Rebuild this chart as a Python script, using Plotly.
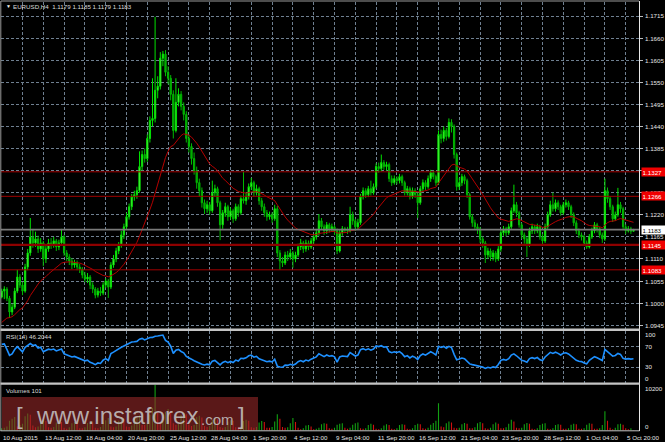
import plotly.graph_objects as go

W, H = 665, 442

# ---------------- data ----------------
# closes of the H4 bars before the visible window (used only to seed the indicators)
warmup_close = [1.0950, 1.0940, 1.0925, 1.0910, 1.0900, 1.0890,
                1.0885, 1.0880, 1.0870, 1.0865, 1.0880, 1.0890,
                1.0900, 1.0890, 1.0880, 1.0875, 1.0890, 1.0905,
                1.0915, 1.0905, 1.0920, 1.0950, 1.0965, 1.0960,
                1.0960, 1.0965, 1.0975, 1.0990, 1.1000, 1.1015]

closes = [1.1030,
    1.1035, 1.1012, 1.0978, 1.0990, 1.1030, 1.1065, 1.1045, 1.1030, 1.1090, 1.1125,
    1.1165, 1.1150, 1.1160, 1.1135, 1.1150, 1.1110, 1.1135, 1.1150, 1.1145, 1.1155,
    1.1140, 1.1150, 1.1165, 1.1125, 1.1115, 1.1105, 1.1095, 1.1100, 1.1090, 1.1085,
    1.1070, 1.1060, 1.1065, 1.1045, 1.1035, 1.1020, 1.1030, 1.1025, 1.1045, 1.1055,
    1.1040, 1.1095, 1.1110, 1.1130, 1.1145, 1.1170, 1.1190, 1.1215, 1.1240, 1.1265,
    1.1270, 1.1280, 1.1340, 1.1370, 1.1360, 1.1410, 1.1455, 1.1460, 1.1530, 1.1540,
    1.1610, 1.1620, 1.1575, 1.1560, 1.1520, 1.1430, 1.1500, 1.1520, 1.1490, 1.1470,
    1.1410, 1.1390, 1.1360, 1.1330, 1.1300, 1.1280, 1.1250, 1.1235, 1.1245, 1.1230,
    1.1275, 1.1285, 1.1250, 1.1195, 1.1225, 1.1240, 1.1215, 1.1230, 1.1210, 1.1240,
    1.1225, 1.1260, 1.1255, 1.1265, 1.1290, 1.1300, 1.1275, 1.1285, 1.1255, 1.1240,
    1.1225, 1.1215, 1.1220, 1.1210, 1.1235, 1.1125, 1.1105, 1.1100, 1.1120, 1.1115,
    1.1125, 1.1110, 1.1120, 1.1140, 1.1150, 1.1135, 1.1150, 1.1140, 1.1155, 1.1165,
    1.1175, 1.1205, 1.1190, 1.1180, 1.1195, 1.1185, 1.1190, 1.1180, 1.1130, 1.1175,
    1.1185, 1.1182,
    1.1180, 1.1220, 1.1205, 1.1190, 1.1200, 1.1265, 1.1280, 1.1270, 1.1285,
    1.1275, 1.1290, 1.1340, 1.1335, 1.1350, 1.1340, 1.1345, 1.1310, 1.1300, 1.1310,
    1.1305, 1.1315, 1.1300, 1.1275, 1.1285, 1.1265, 1.1280, 1.1270, 1.1250, 1.1285,
    1.1300, 1.1290, 1.1310, 1.1325, 1.1315, 1.1300, 1.1420, 1.1410, 1.1430, 1.1415,
    1.1450, 1.1440, 1.1370, 1.1290, 1.1300, 1.1315, 1.1305, 1.1270, 1.1215, 1.1200,
    1.1190, 1.1185, 1.1160, 1.1150, 1.1120, 1.1130, 1.1115, 1.1125, 1.1110, 1.1135,
    1.1175, 1.1185, 1.1175, 1.1190, 1.1230, 1.1245, 1.1225, 1.1195, 1.1170, 1.1160,
    1.1145, 1.1180, 1.1190, 1.1180, 1.1190, 1.1165, 1.1155, 1.1190, 1.1220, 1.1245,
    1.1235, 1.1250, 1.1240, 1.1225, 1.1245, 1.1250, 1.1240, 1.1220, 1.1200, 1.1180,
    1.1170, 1.1165, 1.1150, 1.1140, 1.1165, 1.1180, 1.1195, 1.1185, 1.1170, 1.1160,
    1.1280, 1.1260, 1.1240, 1.1210, 1.1220, 1.1245, 1.1235, 1.1190, 1.1180, 1.1185, 1.1179,
    1.1183]

highs = [1.1036,
    1.1042, 1.1040, 1.1018, 1.0998, 1.1038, 1.1083, 1.1072, 1.1052, 1.1098, 1.1135,
    1.1212, 1.1185, 1.1178, 1.1168, 1.1162, 1.1155, 1.1142, 1.1160, 1.1162, 1.1165,
    1.1160, 1.1158, 1.1185, 1.1170, 1.1132, 1.1122, 1.1112, 1.1108, 1.1106, 1.1098,
    1.1090, 1.1078, 1.1075, 1.1070, 1.1052, 1.1040, 1.1038, 1.1040, 1.1052, 1.1062,
    1.1060, 1.1102, 1.1120, 1.1138, 1.1152, 1.1180, 1.1198, 1.1225, 1.1248, 1.1272,
    1.1280, 1.1290, 1.1378, 1.1380, 1.1385, 1.1420, 1.1465, 1.1560, 1.1713, 1.1565,
    1.1625, 1.1628, 1.1630, 1.1590, 1.1568, 1.1530, 1.1560, 1.1535, 1.1528, 1.1500,
    1.1478, 1.1420, 1.1398, 1.1375, 1.1340, 1.1310, 1.1288, 1.1258, 1.1255, 1.1252,
    1.1305, 1.1295, 1.1290, 1.1255, 1.1232, 1.1250, 1.1245, 1.1238, 1.1235, 1.1248,
    1.1246, 1.1268, 1.1327, 1.1275, 1.1298, 1.1312, 1.1305, 1.1295, 1.1290, 1.1262,
    1.1248, 1.1232, 1.1228, 1.1226, 1.1245, 1.1242, 1.1132, 1.1115, 1.1128, 1.1130,
    1.1135, 1.1130, 1.1128, 1.1148, 1.1160, 1.1155, 1.1158, 1.1156, 1.1162, 1.1172,
    1.1185, 1.1222, 1.1212, 1.1196, 1.1202, 1.1200, 1.1198, 1.1195, 1.1186, 1.1182,
    1.1192, 1.1190,
    1.1190, 1.1240, 1.1228, 1.1210, 1.1210, 1.1272, 1.1288, 1.1286, 1.1292,
    1.1305, 1.1298, 1.1348, 1.1350, 1.1370, 1.1356, 1.1352, 1.1350, 1.1318, 1.1318,
    1.1316, 1.1322, 1.1320, 1.1305, 1.1292, 1.1290, 1.1288, 1.1286, 1.1275, 1.1292,
    1.1308, 1.1306, 1.1318, 1.1332, 1.1330, 1.1320, 1.1430, 1.1432, 1.1440, 1.1436,
    1.1460, 1.1458, 1.1445, 1.1375, 1.1312, 1.1322, 1.1320, 1.1310, 1.1275, 1.1222,
    1.1208, 1.1198, 1.1190, 1.1166, 1.1155, 1.1138, 1.1136, 1.1132, 1.1130, 1.1142,
    1.1182, 1.1192, 1.1190, 1.1198, 1.1238, 1.1295, 1.1252, 1.1230, 1.1200, 1.1176,
    1.1165, 1.1188, 1.1198, 1.1195, 1.1198, 1.1195, 1.1172, 1.1198, 1.1228, 1.1255,
    1.1275, 1.1258, 1.1256, 1.1245, 1.1252, 1.1258, 1.1255, 1.1245, 1.1226, 1.1206,
    1.1186, 1.1176, 1.1170, 1.1156, 1.1172, 1.1188, 1.1202, 1.1200, 1.1190, 1.1176,
    1.1310, 1.1288, 1.1266, 1.1245, 1.1228, 1.1287, 1.1252, 1.1240, 1.1196, 1.1192, 1.1190,
    1.1185]

lows = [1.1012,
    1.1010, 1.1005, 1.0963, 1.0970, 1.0985, 1.1025, 1.1038, 1.1020, 1.1026, 1.1082,
    1.1118, 1.1138, 1.1140, 1.1125, 1.1128, 1.1092, 1.1100, 1.1128, 1.1135, 1.1138,
    1.1130, 1.1132, 1.1145, 1.1118, 1.1105, 1.1095, 1.1085, 1.1088, 1.1082, 1.1075,
    1.1062, 1.1052, 1.1050, 1.1035, 1.1025, 1.1012, 1.1014, 1.1018, 1.1020, 1.1038,
    1.1013, 1.1035, 1.1088, 1.1102, 1.1122, 1.1138, 1.1160, 1.1182, 1.1208, 1.1232,
    1.1255, 1.1260, 1.1275, 1.1330, 1.1350, 1.1352, 1.1400, 1.1440, 1.1450, 1.1510,
    1.1532, 1.1590, 1.1565, 1.1545, 1.1505, 1.1410, 1.1425, 1.1490, 1.1480, 1.1455,
    1.1400, 1.1375, 1.1345, 1.1320, 1.1285, 1.1265, 1.1238, 1.1222, 1.1225, 1.1220,
    1.1225, 1.1265, 1.1240, 1.1157, 1.1185, 1.1215, 1.1205, 1.1208, 1.1200, 1.1205,
    1.1215, 1.1220, 1.1248, 1.1245, 1.1258, 1.1282, 1.1265, 1.1268, 1.1245, 1.1230,
    1.1215, 1.1205, 1.1208, 1.1200, 1.1205, 1.1115, 1.1083, 1.1090, 1.1095, 1.1105,
    1.1108, 1.1088, 1.1102, 1.1115, 1.1132, 1.1125, 1.1128, 1.1132, 1.1135, 1.1148,
    1.1158, 1.1168, 1.1182, 1.1170, 1.1172, 1.1176, 1.1178, 1.1170, 1.1122, 1.1126,
    1.1168, 1.1176,
    1.1172, 1.1176, 1.1195, 1.1180, 1.1182, 1.1195, 1.1258, 1.1262, 1.1264,
    1.1268, 1.1270, 1.1285, 1.1325, 1.1328, 1.1332, 1.1330, 1.1302, 1.1292, 1.1295,
    1.1296, 1.1298, 1.1292, 1.1268, 1.1268, 1.1258, 1.1260, 1.1262, 1.1212, 1.1245,
    1.1278, 1.1282, 1.1285, 1.1302, 1.1308, 1.1292, 1.1295, 1.1398, 1.1402, 1.1405,
    1.1410, 1.1425, 1.1360, 1.1280, 1.1282, 1.1292, 1.1296, 1.1262, 1.1208, 1.1190,
    1.1182, 1.1172, 1.1150, 1.1138, 1.1100, 1.1110, 1.1105, 1.1106, 1.1102, 1.1105,
    1.1128, 1.1168, 1.1166, 1.1170, 1.1185, 1.1225, 1.1215, 1.1188, 1.1160, 1.1148,
    1.1115, 1.1140, 1.1172, 1.1172, 1.1174, 1.1158, 1.1145, 1.1150, 1.1185, 1.1215,
    1.1228, 1.1228, 1.1232, 1.1218, 1.1220, 1.1238, 1.1232, 1.1212, 1.1192, 1.1172,
    1.1162, 1.1156, 1.1142, 1.1135, 1.1136, 1.1160, 1.1174, 1.1176, 1.1162, 1.1150,
    1.1155, 1.1250, 1.1232, 1.1202, 1.1205, 1.1215, 1.1225, 1.1182, 1.1172, 1.1176, 1.1172,
    1.1179]

volumes = [500,
    600, 900, 2200, 2600, 3000, 900,
    1200, 1500, 3200, 3800, 3500, 1100,
    700, 900, 2000, 2400, 2100, 700,
    600, 800, 1800, 2200, 1900, 600,
    400, 700, 1600, 1900, 1700, 500,
    500, 700, 1700, 2000, 1800, 600,
    500, 800, 1800, 2300, 2800, 900,
    700, 900, 2200, 2600, 2500, 900,
    800, 1100, 2800, 3200, 3400, 1200,
    1200, 1800, 3500, 5000, 10200, 4000,
    1500, 2000, 4200, 4800, 4300, 1600,
    1200, 1500, 3500, 3900, 3600, 1300,
    1000, 1200, 3000, 3300, 2900, 1000,
    800, 1000, 2400, 2800, 2500, 800,
    600, 800, 2000, 2300, 2200, 700,
    700, 900, 2100, 2400, 2200, 700,
    600, 800, 1800, 2100, 1900, 600,
    600, 800, 2000, 3600, 2600, 800,
    600, 700, 1600, 2800, 1900, 600,
    300, 500, 1100, 1200, 900, 300,
    400, 600, 1400, 1600, 1500, 500,
    400, 600, 1300, 1500, 1600, 600,
    400, 600, 1300, 1600, 1800, 500,
    400, 500, 1200, 1500, 1300, 400,
    300, 500, 1100, 1400, 1200, 400,
    300, 500, 1200, 1400, 1300, 400,
    300, 500, 1200, 1500, 1400, 500,
    400, 600, 1300, 1700, 2200, 6100,
    900, 700, 1600, 2000, 1800, 600,
    500, 600, 1400, 1700, 1500, 500,
    500, 700, 1600, 1900, 1600, 500,
    400, 600, 1400, 1800, 1500, 500,
    500, 700, 1500, 2400, 2000, 600,
    500, 600, 1400, 1700, 1500, 400,
    300, 500, 1200, 1500, 1600, 400,
    300, 500, 1200, 1400, 1300, 400,
    400, 500, 1300, 1500, 1400, 400,
    400, 500, 1300, 1600, 1500, 400,
    400, 500, 1200, 4300, 2200, 600,
    300, 600, 1400, 1500, 1300, 500,
    300, 500, 101]

time_labels = ["10 Aug 2015", "13 Aug 12:00", "18 Aug 04:00", "20 Aug 20:00", "25 Aug 12:00",
               "28 Aug 04:00", "1 Sep 20:00", "4 Sep 12:00", "9 Sep 04:00", "11 Sep 20:00",
               "16 Sep 12:00", "21 Sep 04:00", "23 Sep 20:00", "28 Sep 12:00", "1 Oct 04:00",
               "5 Oct 20:00"]
price_ticks = [1.0945, 1.1000, 1.1055, 1.1110, 1.1165, 1.1220, 1.1275, 1.1330,
               1.1385, 1.1440, 1.1495, 1.1550, 1.1605, 1.1660, 1.1715]
hidden_ticks = [1.1330]          # fully covered by the 1.1327 level box
red_levels = [1.1327, 1.1266, 1.1145, 1.1083]
bid_price = 1.1183
title_text = "EURUSD,H4  1.1179 1.1185 1.1179 1.1183"
rsi_text = "RSI(14) 46.2044"
vol_text = "Volumes 101"
MA_PERIOD = 24
RSI_PERIOD = 14

# ---------------- derived series ----------------
n = len(closes)
idx = list(range(n))
opens = [warmup_close[-1]] + closes[:-1]
full = warmup_close + closes
nw = len(warmup_close)

alpha = 2.0 / (MA_PERIOD + 1)
ema_full = [full[0]]
for k in range(1, len(full)):
    ema_full.append(ema_full[-1] + alpha * (full[k] - ema_full[-1]))
ma = ema_full[nw:]

gains, losses = [0.0], [0.0]
for k in range(1, len(full)):
    d = full[k] - full[k - 1]
    gains.append(max(d, 0.0))
    losses.append(max(-d, 0.0))
rsi_full = [None] * len(full)
ag = sum(gains[1:RSI_PERIOD + 1]) / RSI_PERIOD
al = sum(losses[1:RSI_PERIOD + 1]) / RSI_PERIOD
for k in range(RSI_PERIOD + 1, len(full)):
    ag = (ag * (RSI_PERIOD - 1) + gains[k]) / RSI_PERIOD
    al = (al * (RSI_PERIOD - 1) + losses[k]) / RSI_PERIOD
    rsi_full[k] = 100.0 if al == 0 else 100 - 100 / (1 + ag / al)
rsi = rsi_full[nw:]

vol_colors = ['#12a012']
for k in range(1, n):
    vol_colors.append('#12a012' if volumes[k] > volumes[k - 1] else '#d01010')

# ---------------- geometry helpers (pixel -> paper / data) ----------------
def py(px):
    return 1 - px / H

def pxp(px):
    return px / W

def price_at(ypx):
    return 1.1715 - (ypx - 16) * 0.000249

X0, X1 = 1.0, 639.0
BAR0, BARW = 1.7, 2.6
xr = [(X0 - BAR0) / BARW, (X1 - BAR0) / BARW]

MAIN_T, MAIN_B = 2.0, 328.5
RSI_T, RSI_B = 331.0, 382.5
VOL_T, VOL_B = 384.8, 430.5

GRID = '#6f8091'
GDASH = '3px,2px'
FONT = 'Liberation Sans'
TXT = '#e6e6e6'

fig = go.Figure()
fig.add_trace(go.Candlestick(
    x=idx, open=opens, high=highs, low=lows, close=closes,
    increasing=dict(line=dict(color='#00e000', width=1), fillcolor='#8cff6a'),
    decreasing=dict(line=dict(color='#00b800', width=1), fillcolor='#00a000'),
    whiskerwidth=0, xaxis='x', yaxis='y', hoverinfo='skip'))
fig.add_trace(go.Scatter(x=idx, y=ma, mode='lines', line=dict(color='#b40000', width=1),
                         xaxis='x', yaxis='y', hoverinfo='skip'))
fig.add_trace(go.Scatter(x=idx, y=rsi, mode='lines', line=dict(color='#1e90ff', width=1.6),
                         xaxis='x2', yaxis='y2', hoverinfo='skip'))
fig.add_trace(go.Bar(x=idx, y=volumes, marker=dict(color=vol_colors, line=dict(width=0)),
                     width=0.42, xaxis='x3', yaxis='y3', hoverinfo='skip'))

grid_vals = list(range(0, n + 8, 8))
xcommon = dict(domain=[pxp(X0), pxp(X1)], range=xr, showticklabels=False, zeroline=False,
               tickvals=grid_vals, ticks='', showline=False)

fig.update_layout(
    width=W, height=H, margin=dict(l=0, r=0, t=0, b=0, autoexpand=False),
    paper_bgcolor='black', plot_bgcolor='black', showlegend=False,
    font=dict(family=FONT, size=6.2, color=TXT),
    xaxis=dict(**xcommon, anchor='y', showgrid=True, gridcolor=GRID, griddash=GDASH,
               gridwidth=1, rangeslider=dict(visible=False)),
    xaxis2=dict(**xcommon, anchor='y2', matches='x', showgrid=True, gridcolor=GRID,
                griddash=GDASH, gridwidth=1),
    xaxis3=dict(**xcommon, anchor='y3', matches='x', showgrid=False),
    yaxis=dict(domain=[py(MAIN_B), py(MAIN_T)], range=[price_at(MAIN_B), price_at(MAIN_T)],
               side='right', anchor='x', tickvals=price_ticks, showticklabels=False,
               ticks='outside', ticklen=3, tickcolor='#bbbbbb', showgrid=True,
               gridcolor=GRID, griddash=GDASH, gridwidth=1, zeroline=False, showline=False),
    yaxis2=dict(domain=[py(RSI_B), py(RSI_T)], range=[0, 100], anchor='x2', side='right',
                tickvals=[30, 70], showticklabels=False, ticks='', showgrid=True,
                gridcolor=GRID, griddash=GDASH, zeroline=False),
    yaxis3=dict(domain=[py(VOL_B), py(VOL_T)], range=[0, 10200], anchor='x3', side='right',
                showticklabels=False, ticks='', showgrid=False, zeroline=False),
)

shapes = []
for lv in red_levels:
    shapes.append(dict(type='line', xref='x domain', yref='y', x0=0, x1=1, y0=lv, y1=lv,
                       line=dict(color='#8e0000' if lv == 1.1145 else '#a00000',
                                 width=2.2 if lv == 1.1145 else 1)))
shapes.append(dict(type='line', xref='x domain', yref='y', x0=0, x1=1, y0=bid_price,
                   y1=bid_price, line=dict(color='#7a7a7a', width=1.6)))
shapes.append(dict(type='line', xref='paper', yref='paper', x0=pxp(1), x1=pxp(639),
                   y0=py(1), y1=py(1), line=dict(color='#9a9a9a', width=1)))
shapes.append(dict(type='line', xref='paper', yref='paper', x0=pxp(0.8), x1=pxp(0.8),
                   y0=py(1), y1=py(431), line=dict(color='#9a9a9a', width=1)))
shapes.append(dict(type='line', xref='paper', yref='paper', x0=pxp(639.5), x1=pxp(639.5),
                   y0=py(1), y1=py(431), line=dict(color='#e8e8e8', width=1)))
for y0s, y1s in [(328.6, 331.0), (382.6, 384.8)]:
    shapes.append(dict(type='rect', xref='paper', yref='paper', x0=pxp(0.5), x1=pxp(639.5),
                       y0=py(y1s), y1=py(y0s), fillcolor='#c4c4c4', line=dict(width=0)))
shapes.append(dict(type='line', xref='paper', yref='paper', x0=pxp(0.5), x1=pxp(639.5),
                   y0=py(430.8), y1=py(430.8), line=dict(color='#c4c4c4', width=1)))
shapes.append(dict(type='rect', xref='paper', yref='paper', x0=pxp(2), x1=pxp(258),
                   y0=py(430), y1=py(397), fillcolor='rgba(150,40,40,0.6)',
                   line=dict(width=0), layer='above'))
fig.update_layout(shapes=shapes)

ann = []
def A(text, xpx, ypx, size=6.2, color=TXT, xanchor='left', **kw):
    ann.append(dict(text=text, xref='paper', yref='paper', x=pxp(xpx), y=py(ypx),
                    xanchor=xanchor, yanchor='middle', showarrow=False,
                    font=dict(family=FONT, size=size, color=color), **kw))

for v in price_ticks:
    if v in hidden_ticks:
        continue
    ann.append(dict(text='%.4f' % v, xref='paper', yref='y', x=pxp(642.5), y=v,
                    xanchor='left', yanchor='middle', showarrow=False,
                    font=dict(family=FONT, size=6.2, color=TXT)))

A('▼', 3.5, 6.5, size=5, color='#f0f0f0')
A(title_text, 11, 6.5, color='#dcdcdc')
A(rsi_text, 3.5, 336.5, color='#dcdcdc')
A(vol_text, 3.5, 390.5, color='#dcdcdc')
for lbl, ypx in [('100', 334.3), ('70', 346.7), ('30', 366.9), ('0', 378.3)]:
    A(lbl, 643, ypx)
A('10200', 643, 388.3)
A('0', 643, 426.2)

for lv in red_levels:
    ann.append(dict(text='%.4f' % lv, xref='paper', yref='y', x=pxp(640.5), y=lv,
                    xanchor='left', yanchor='middle', showarrow=False, bgcolor='#f00000',
                    borderpad=0.6, width=22, align='left',
                    font=dict(family=FONT, size=6.2, color='white')))
ann.append(dict(text='%.4f' % bid_price, xref='paper', yref='y', x=pxp(640.5), y=bid_price,
                xanchor='left', yanchor='middle', showarrow=False, bgcolor='#ffffff',
                borderpad=0.6, width=22, align='left',
                font=dict(family=FONT, size=6.2, color='black')))

for k, lbl in enumerate(time_labels):
    ann.append(dict(text=lbl, xref='x3', yref='paper', x=16 * k, y=py(437),
                    xanchor='left', yanchor='middle', showarrow=False, xshift=-0.5,
                    font=dict(family=FONT, size=6.2, color=TXT)))

WM = 'rgba(200,200,200,0.85)'
A('[', 14, 415.5, size=24, color=WM)
A('www.instaforex', 34, 415.5, size=24, color=WM)
A('.com', 199, 419.5, size=15, color=WM)
A(']', 236, 415.5, size=24, color=WM)

fig.update_layout(annotations=ann)
fig.write_html('out.html', config={'displayModeBar': False, 'staticPlot': True},
               post_script="document.body.style.margin='0';document.body.style.padding='0';"
                           "document.body.style.overflow='hidden';")
